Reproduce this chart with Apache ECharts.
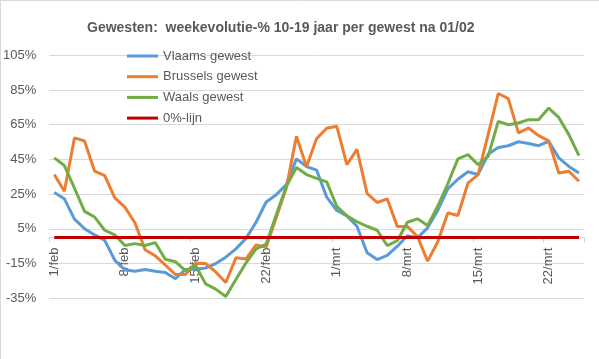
<!DOCTYPE html>
<html>
<head>
<meta charset="utf-8">
<script src="https://cdn.jsdelivr.net/npm/echarts@6/dist/echarts.min.js"></script>
<style>
html,body{margin:0;padding:0;background:#fff;}
#chart{width:599px;height:359px;}
</style>
</head>
<body>
<div id="chart"></div>
<script>
var categories = [
 '1/feb','2/feb','3/feb','4/feb','5/feb','6/feb','7/feb','8/feb','9/feb','10/feb',
 '11/feb','12/feb','13/feb','14/feb','15/feb','16/feb','17/feb','18/feb','19/feb','20/feb',
 '21/feb','22/feb','23/feb','24/feb','25/feb','26/feb','27/feb','28/feb',
 '1/mrt','2/mrt','3/mrt','4/mrt','5/mrt','6/mrt','7/mrt','8/mrt','9/mrt','10/mrt',
 '11/mrt','12/mrt','13/mrt','14/mrt','15/mrt','16/mrt','17/mrt','18/mrt','19/mrt','20/mrt',
 '21/mrt','22/mrt','23/mrt','24/mrt','25/mrt'
];
var vlaams = [
 25.9, 22.3, 10.6, 5.1, 1.5, -1.6, -13.1, -18.6, -19.4, -18.4,
 -19.4, -20.1, -23.7, -18.4, -18.2, -17.5, -15.0, -11.3, -6.5, -0.5,
 8.8, 20.5, 24.7, 30.5, 45.3, 40.9, 38.8, 23.3,
 15.6, 12.5, 6.5, -8.8, -12.7, -10.3, -5.0, 1.0, -0.2, 5.6,
 15.6, 28.0, 33.6, 37.9, 36.3, 48.0, 51.9, 52.9, 55.2, 54.2,
 52.9, 55.4, 45.9, 41.0, 37.2
];
var brussels = [
 36.3, 26.7, 57.4, 55.6, 38.2, 35.7, 22.8, 17.5, 8.4, -7.0,
 -10.5, -15.8, -21.3, -21.3, -14.8, -15.0, -19.8, -25.9, -11.7, -12.3,
 -4.2, -5.5, 11.5, 28.6, 58.3, 40.8, 57.0, 63.0,
 64.1, 42.0, 50.8, 25.5, 20.2, 22.3, 6.3, 6.3, 0.5, -13.6,
 -2.6, 14.2, 12.7, 31.3, 36.3, 59.3, 83.0, 80.0, 60.3, 63.1,
 58.7, 55.7, 37.2, 38.2, 32.4
];
var waals = [
 45.9, 41.5, 28.5, 15.1, 11.8, 4.2, 1.5, -4.6, -3.5, -4.6,
 -2.9, -12.5, -13.9, -19.1, -16.0, -26.7, -29.7, -34.0, -24.2, -14.6,
 -6.5, -3.8, 13.2, 29.5, 40.4, 36.3, 34.1, 32.1,
 18.0, 12.5, 9.1, 6.5, 4.2, -4.6, -1.8, 8.8, 10.8, 6.9,
 18.0, 31.0, 45.3, 47.8, 42.0, 46.8, 66.9, 65.0, 66.0, 67.9,
 67.9, 74.6, 69.2, 59.3, 47.2
];
var nulLijn = categories.map(function(){ return 0; });
var seriesNames = ['Vlaams gewest','Brussels gewest','Waals gewest','0%-lijn'];
var titleText = 'Gewesten:  weekevolutie-% 10-19 jaar per gewest na 01/02';
var yMin = -35, yMax = 105, yStep = 20;

var FONT = 'Liberation Sans';
var TXT = '#595959';
var GRID_TOP = 55.3, GRID_BOTTOM = 60.7, H = 359;
var plotH = H - GRID_TOP - GRID_BOTTOM;
// move the category axis up to the 0% level (Excel "axis crosses at 0")
var axisOffset = -plotH * (0 - yMin) / (yMax - yMin);

var chart = echarts.init(document.getElementById('chart'), null, {renderer:'canvas'});
function ln(name, data, color){
  return {name:name, type:'line', data:data, showSymbol:false, symbol:'none',
    lineStyle:{color:color, width:3}, itemStyle:{color:color}, animation:false};
}
chart.setOption({
  backgroundColor:'#fff',
  animation:false,
  textStyle:{fontFamily:FONT},
  title:{text:titleText, left:82, top:16,
    textStyle:{fontFamily:FONT, fontSize:14, fontWeight:'bold', color:TXT}},
  legend:{orient:'vertical', left:127, top:49, padding:0, itemWidth:31, itemHeight:3, itemGap:6.7,
    icon:'rect', data:seriesNames,
    textStyle:{fontFamily:FONT, fontSize:13, color:TXT, lineHeight:14}},
  grid:{left:49, right:15, top:GRID_TOP, bottom:GRID_BOTTOM, containLabel:false},
  xAxis:{type:'category', data:categories, boundaryGap:true, offset:axisOffset,
    axisLine:{show:true, onZero:false, lineStyle:{color:'#d9d9d9', width:1}},
    axisTick:{show:true, interval:6, length:5, lineStyle:{color:'#d9d9d9'}},
    axisLabel:{interval:6, rotate:90, margin:10, fontFamily:FONT, fontSize:13, color:TXT},
    splitLine:{show:false}},
  yAxis:{type:'value', min:yMin, max:yMax, interval:yStep,
    axisLine:{show:false}, axisTick:{show:false},
    axisLabel:{formatter:function(v){return v+'%';}, fontFamily:FONT, fontSize:13, color:TXT, margin:13},
    splitLine:{show:true, lineStyle:{color:'#d9d9d9', width:1}}},
  series:[
    ln(seriesNames[0], vlaams, '#5B9BD5'),
    ln(seriesNames[1], brussels, '#ED7D31'),
    ln(seriesNames[2], waals, '#70AD47'),
    ln(seriesNames[3], nulLijn, '#C00000')
  ],
  graphic:[
    {type:'line', shape:{x1:0.5,y1:0,x2:0.5,y2:359}, style:{stroke:'#d9d9d9', lineWidth:1}, silent:true},
    {type:'line', shape:{x1:0,y1:0.5,x2:599,y2:0.5}, style:{stroke:'#d9d9d9', lineWidth:1}, silent:true}
  ]
});
</script>
</body>
</html>
